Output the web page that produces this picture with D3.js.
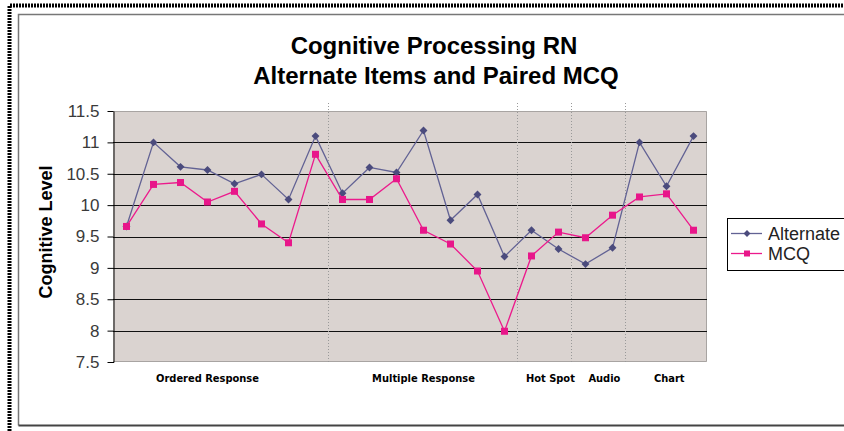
<!DOCTYPE html>
<html>
<head>
<meta charset="utf-8">
<script src="https://cdn.jsdelivr.net/npm/d3@7"></script>
<style>
  html, body { margin: 0; padding: 0; background: #fff; }
  svg { display: block; font-family: Arial, "Liberation Sans", sans-serif; }
</style>
</head>
<body>
<div id="chart"></div>
<script>
// items in test order, grouped by item type
const items = [1,2,3,4,5,6,7,8,9,10,11,12,13,14,15,16,17,18,19,20,21,22]
const alternate = [9.66,11.0,10.61,10.56,10.34,10.49,10.09,11.10,10.19,10.60,10.52,11.19,9.76,10.17,9.18,9.60,9.30,9.06,9.32,11.0,10.30,11.10]
const mcq = [9.66,10.33,10.36,10.05,10.22,9.70,9.40,10.81,10.09,10.09,10.42,9.60,9.38,8.95,7.99,9.19,9.57,9.48,9.84,10.13,10.18,9.60]
const groups = ["Ordered Response","Multiple Response","Hot Spot","Audio","Chart"]
const groupSizes = [8,7,2,2,3]
const groupLabelAt = [3,11,15.7,17.7,20.1]
const yTicks = [7.5,8,8.5,9,9.5,10,10.5,11,11.5]

const width=844
const height=431

const svg=d3.select("#chart")
.append("svg")
.attr("width",width)
.attr("height",height)

svg.append("rect").attr("width",width).attr("height",height).attr("fill","#fff")

// frames
svg.append("path")
  .attr("d",`M9.5,${height} V5.5 H${width}`)
  .attr("fill","none").attr("stroke","#000").attr("stroke-width",4)
  .attr("stroke-dasharray","2,1")
svg.append("path")
  .attr("d",`M18.5,425.5 V14.5 H${width}`)
  .attr("fill","none").attr("stroke","#777").attr("stroke-width",1.5)
svg.append("path")
  .attr("d",`M18.5,425.5 H${width}`)
  .attr("fill","none").attr("stroke","#444").attr("stroke-width",2)

const pLeft=113, pRight=707, pTop=111, pBottom=362

// scale X
const x=d3.scalePoint()
.domain(items)
.range([pLeft,pRight])
.padding(0.5)
const xAt=i=>x(items[0])+i*x.step()

// scale Y
const y=d3.scaleLinear()
.domain([7.5,11.5])
.range([pBottom,pTop])

// plot background
svg.append("rect")
  .attr("x",pLeft).attr("y",pTop)
  .attr("width",pRight-pLeft).attr("height",pBottom-pTop)
  .attr("fill","#dad3d0")
svg.append("path")
  .attr("d",`M${pLeft},${pTop+0.5} H${pRight-0.5} V${pBottom-0.5} H${pLeft}`)
  .attr("fill","none").attr("stroke","#a8a4a2")

// gridlines
svg.append("g")
  .selectAll("line")
  .data(yTicks.filter(t=>t>7.5&&t<11.5))
  .join("line")
  .attr("x1",pLeft).attr("x2",pRight)
  .attr("y1",d=>Math.round(y(d))+0.5).attr("y2",d=>Math.round(y(d))+0.5)
  .attr("stroke","#111").attr("stroke-width",1)

// group dividers
let cum=0
const dividers=groupSizes.slice(0,-1).map(n=>{cum+=n;return cum})
svg.append("g")
  .selectAll("line")
  .data(dividers)
  .join("line")
  .attr("x1",d=>Math.round(xAt(d-0.55))+0.5).attr("x2",d=>Math.round(xAt(d-0.55))+0.5)
  .attr("y1",103).attr("y2",pBottom)
  .attr("stroke","#999").attr("stroke-dasharray","1,2")

// Y axis
const yAxis=svg.append("g")
  .attr("transform",`translate(${pLeft+0.5},0)`)
  .call(d3.axisLeft(y).tickValues(yTicks).tickSize(6).tickSizeOuter(0).tickPadding(8).tickFormat(d3.format("")))
yAxis.select(".domain").attr("stroke","#000")
yAxis.selectAll(".tick line").attr("stroke","#000")
yAxis.selectAll(".tick text")
  .attr("fill","#3a3a3a").style("font-size","17px").style("font-family","Arial, 'Liberation Sans', sans-serif")

// small tick at bottom-left corner
svg.append("line").attr("x1",pLeft-3).attr("x2",pLeft+1).attr("y1",pBottom+0.5).attr("y2",pBottom+0.5).attr("stroke","#000")

// group labels
svg.append("g")
  .selectAll("text")
  .data(groups)
  .join("text")
  .attr("x",(d,i)=>xAt(groupLabelAt[i]))
  .attr("y",382)
  .attr("text-anchor","middle")
  .style("font-family","'Liberation Sans Narrow','DejaVu Sans Condensed',sans-serif")
  .style("font-weight","bold")
  .style("font-size","11px")
  .attr("fill","#000")
  .text(d=>d)

// lines
const colAlt="#626294", colMcq="#ec1a8c"
const line=d3.line().x((d,i)=>x(items[i])).y(d=>y(d))

svg.append("path").datum(alternate)
  .attr("d",line).attr("fill","none").attr("stroke",colAlt).attr("stroke-width",1.3)
svg.append("g").selectAll("path")
  .data(alternate)
  .join("path")
  .attr("transform",(d,i)=>`translate(${x(items[i])},${y(d)})`)
  .attr("d",d3.symbol(d3.symbolDiamond2,40))
  .attr("fill","#4b4b7d")

svg.append("path").datum(mcq)
  .attr("d",line).attr("fill","none").attr("stroke",colMcq).attr("stroke-width",1.3)
svg.append("g").selectAll("rect")
  .data(mcq)
  .join("rect")
  .attr("x",(d,i)=>x(items[i])-3.5).attr("y",d=>y(d)-3.5)
  .attr("width",7).attr("height",7)
  .attr("fill","#e8168a")

// title
svg.append("text")
  .attr("x",434).attr("y",54)
  .attr("text-anchor","middle")
  .style("font-size","24px").style("font-weight","bold")
  .text("Cognitive Processing RN")
svg.append("text")
  .attr("x",436).attr("y",84)
  .attr("text-anchor","middle")
  .style("font-size","24px").style("font-weight","bold")
  .text("Alternate Items and Paired MCQ")

// Y axis label
svg.append("text")
  .attr("transform","rotate(-90)")
  .attr("x",-232)
  .attr("y",52)
  .attr("text-anchor","middle")
  .style("font-size","18px").style("font-weight","bold")
  .text("Cognitive Level")

// legend
const lg=svg.append("g")
lg.append("rect")
  .attr("x",727.5).attr("y",218.5).attr("width",130).attr("height",52)
  .attr("fill","#fff").attr("stroke","#000")
const legendItems=[["Alternate",colAlt,"diamond",233],["MCQ",colMcq,"square",253]]
legendItems.forEach(([name,col,shape,ly])=>{
  lg.append("line").attr("x1",731).attr("x2",762).attr("y1",ly+0.5).attr("y2",ly+0.5)
    .attr("stroke",col).attr("stroke-width",1.3)
  if(shape==="diamond"){
    lg.append("path").attr("transform",`translate(747,${ly+0.5})`)
      .attr("d",d3.symbol(d3.symbolDiamond2,30)).attr("fill","#4b4b7d")
  }else{
    lg.append("rect").attr("x",744).attr("y",ly-2.5).attr("width",6).attr("height",6).attr("fill","#e8168a")
  }
  lg.append("text").attr("x",768).attr("y",ly+6.5)
    .style("font-size","18px").attr("fill","#222")
    .text(name)
})
</script>
</body>
</html>
